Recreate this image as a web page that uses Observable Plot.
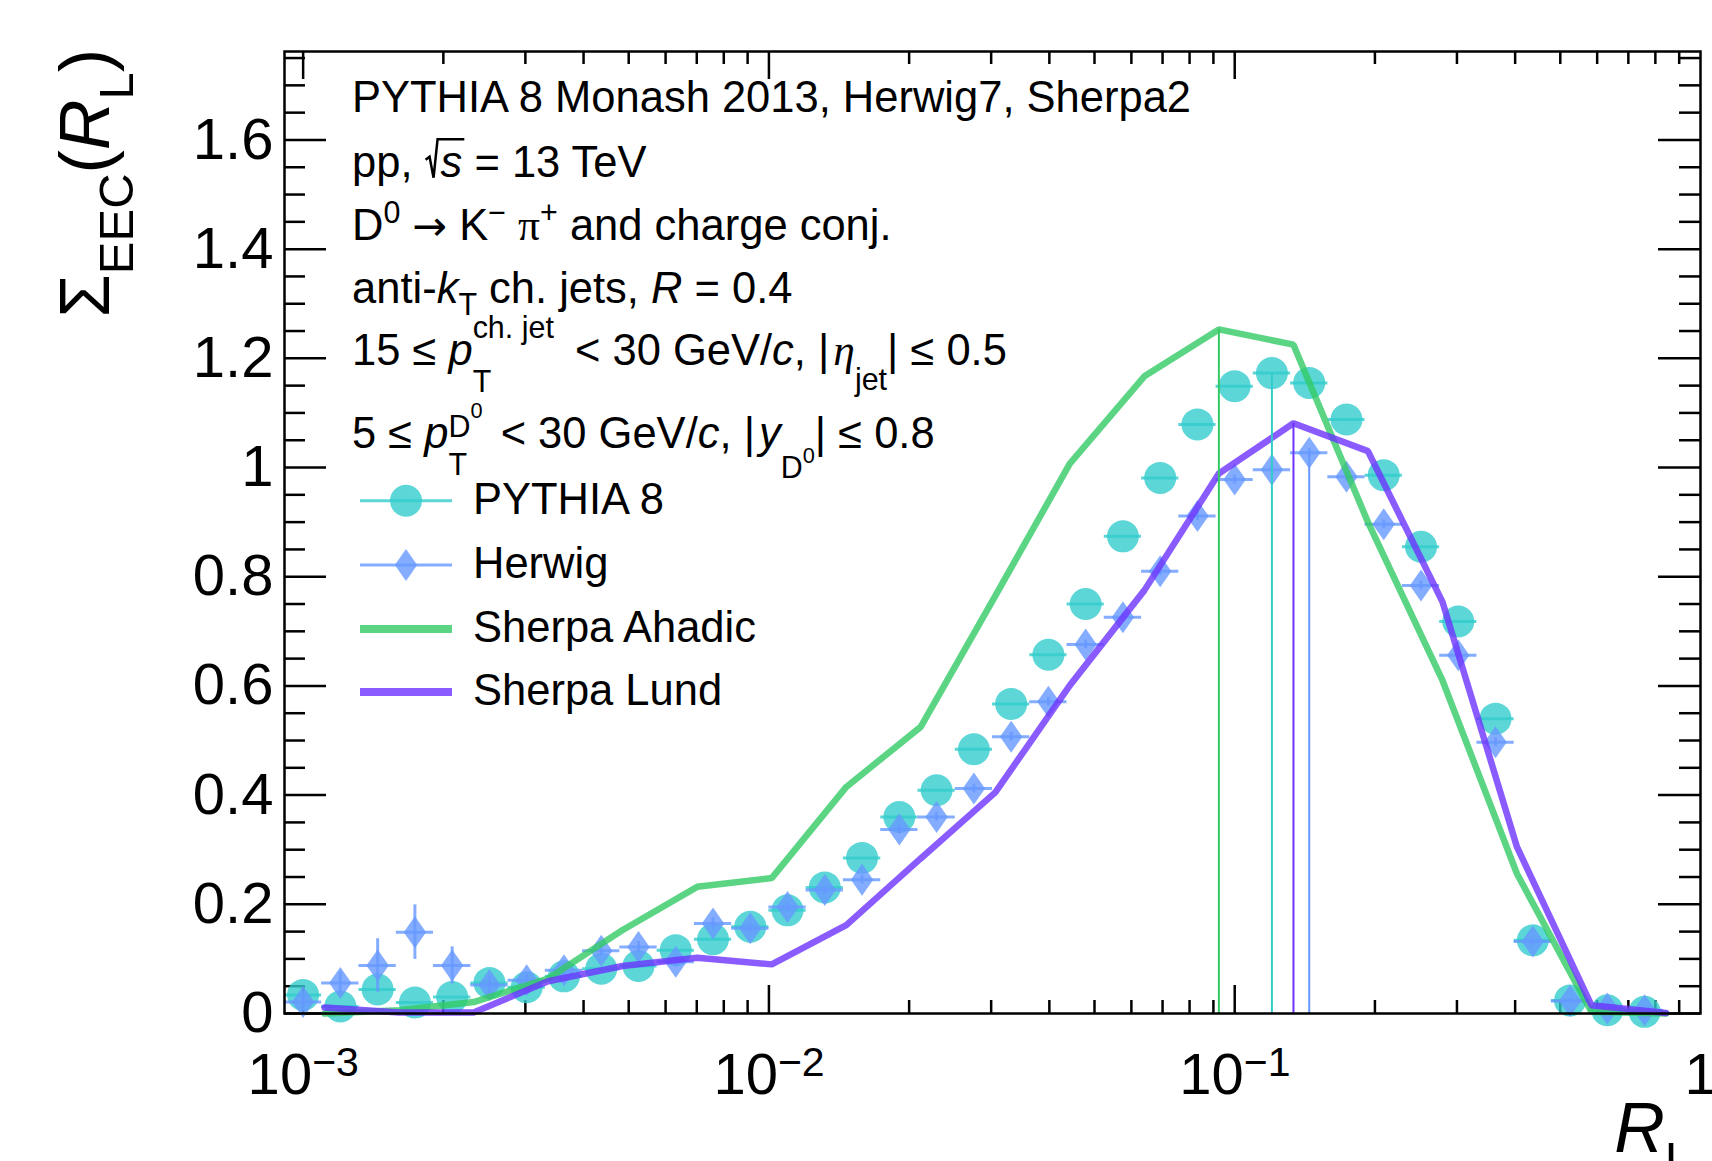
<!DOCTYPE html>
<html><head><meta charset="utf-8">
<script src="https://cdn.jsdelivr.net/npm/d3@7"></script>
<script src="https://cdn.jsdelivr.net/npm/@observablehq/plot@0.6"></script>
<style>
html,body{margin:0;padding:0;background:#fff;}
#chart svg{display:block;}
</style></head><body><div id="chart"></div>
<script>
// ---------------- data ----------------
// log-spaced bin edges of the PYTHIA / Herwig histograms (R_L)
const binEdges = [0.000912,0.001096,0.001318,0.001585,0.001905,0.002291,0.002754,0.003311,0.003981,0.004786,
  0.005754,0.006918,0.008318,0.01,0.01202,0.01445,0.01738,0.02089,0.02512,0.03020,0.03631,0.04365,0.05248,
  0.06310,0.07586,0.09120,0.1096,0.1318,0.1585,0.1905,0.2291,0.2754,0.3311,0.3981,0.4786,0.5754,0.6918,0.8318];
const pythia = [0.034,0.013,0.044,0.020,0.030,0.056,0.048,0.068,0.082,0.087,0.116,0.136,0.159,0.189,0.231,0.285,
  0.360,0.409,0.484,0.567,0.657,0.750,0.874,0.981,1.079,1.149,1.173,1.155,1.088,0.986,0.855,0.718,0.540,0.134,0.024,0.006,0.003];
const herwig = [0.021,0.056,0.088,0.149,0.088,0.052,0.061,0.079,0.115,0.122,0.095,0.165,0.156,0.195,0.226,0.245,
  0.337,0.360,0.412,0.507,0.571,0.676,0.726,0.810,0.911,0.978,0.996,1.027,0.983,0.896,0.784,0.656,0.497,0.132,0.023,0.009,0.006];
const herwigErr = [0.015,0.02,0.049,0.05,0.034,0.015,0.012,0.012,0.01,0.01,0.01,0.01,0.008,0.008,0.008,0.008,
  0.008,0.008,0.008,0.008,0.008,0.008,0.008,0.008,0.008,0.008,0.008,0.008,0.008,0.008,0.008,0.008,0.008,0.006,0.004,0.003,0.003];
const sherpaX = [0.001112,0.001607,0.002323,0.003357,0.004853,0.007015,0.01014,0.01466,0.02118,0.03062,
  0.04426,0.06397,0.09247,0.1337,0.1932,0.2793,0.4036,0.5834,0.8433];
const sherpaAhadic = [0.0,0.006,0.021,0.064,0.153,0.232,0.248,0.415,0.525,0.765,1.007,1.167,1.253,1.225,0.900,0.610,0.256,0.003,0.0];
const sherpaLund   = [0.011,0.002,0.002,0.059,0.087,0.102,0.090,0.162,0.284,0.405,0.601,0.775,0.989,1.081,1.030,0.754,0.305,0.015,0.001];

const yMajorTicks = [0,0.2,0.4,0.6,0.8,1,1.2,1.4,1.6];
const yTickLabels = ["0","0.2","0.4","0.6","0.8","1","1.2","1.4","1.6"];
const xMajorTicks = [0.001,0.01,0.1];
const xTickBase = ["10","10","10"];
const xTickExp = ["\u22123","\u22122","\u22121"];
const xEndTick = [1];
const xEndLabel = ["1"];
const seriesNames = ["PYTHIA 8","Herwig","Sherpa Ahadic","Sherpa Lund"];

// ---------------- style ----------------
const FONT = "'Liberation Sans', Arial, Helvetica, sans-serif";
const SERIF = "'Liberation Serif', 'DejaVu Serif', serif";
const C_PY = "#33cccc", C_HW = "#6699ff", C_AH = "#32ca64", C_LU = "#6d33ff";
const ALPHA = 0.8;

const W = 1712, H = 1161, ML = 284, MR = 12, MT = 51, MB = 148;
const FW = W - ML - MR, FH = H - MT - MB;

// derived tables
const binCenters = binEdges.slice(0, -1).map((lo, i) => Math.sqrt(lo * binEdges[i + 1]));
const pyData = pythia.map((y, i) => ({x: binCenters[i], lo: binEdges[i], hi: binEdges[i + 1], y}));
const hwData = herwig.map((y, i) => ({x: binCenters[i], lo: binEdges[i], hi: binEdges[i + 1], y, e: herwigErr[i]}));
const ahData = sherpaX.map((x, i) => ({x, y: sherpaAhadic[i]}));
const luData = sherpaX.map((x, i) => ({x, y: sherpaLund[i]}));
const peakOf = (d) => d[d3.maxIndex(d, p => p.y)];
const peaks = [
  {...peakOf(ahData), c: C_AH},
  {...peakOf(pyData), c: C_PY},
  {...peakOf(luData), c: C_LU},
  {...peakOf(hwData), c: C_HW}
];

// minor ticks
const xMinor = [];
for (const dec of [0.001, 0.01, 0.1]) for (let k = 2; k <= 9; k++) xMinor.push(+(k * dec).toPrecision(3));
const yMinor = [];
for (let k = 1; k <= 35; k++) if (k % 4 !== 0) yMinor.push(+(k * 0.05).toFixed(2));

const tallDiamond = {
  draw(context, size) {
    const r = Math.sqrt(size / Math.PI), w = r * 0.7;
    context.moveTo(0, -r); context.lineTo(w, 0); context.lineTo(0, r); context.lineTo(-w, 0); context.closePath();
  }
};
const DIA_R = 16;

const tickStyle = {stroke: "#000", strokeWidth: 2.5};
const plot = Plot.plot({
  width: W, height: H,
  marginLeft: ML, marginRight: MR, marginTop: MT, marginBottom: MB,
  style: {fontFamily: FONT, background: "#fff", color: "#000", overflow: "visible"},
  x: {type: "log", domain: [0.000912, 1], axis: null},
  y: {domain: [0, 1.762]},
  marks: [
    // axis ticks (inward, ROOT style) on all four sides
    Plot.tickY(yMajorTicks, {y: d => d, insetRight: FW - 42, ...tickStyle}),
    Plot.tickY(yMajorTicks, {y: d => d, insetLeft: FW - 42, ...tickStyle}),
    Plot.tickY(yMinor, {y: d => d, insetRight: FW - 21, ...tickStyle}),
    Plot.tickY(yMinor, {y: d => d, insetLeft: FW - 21, ...tickStyle}),
    Plot.tickX(xMajorTicks, {x: d => d, insetTop: FH - 28, ...tickStyle}),
    Plot.tickX(xMajorTicks, {x: d => d, insetBottom: FH - 28, ...tickStyle}),
    Plot.tickX(xMinor, {x: d => d, insetTop: FH - 13, ...tickStyle}),
    Plot.tickX(xMinor, {x: d => d, insetBottom: FH - 13, ...tickStyle}),
    Plot.axisY({ticks: yMajorTicks, tickSize: 0, tickPadding: 11, fontSize: 58, label: null,
      tickFormat: d => yTickLabels[yMajorTicks.indexOf(d)]}),
    // x tick labels 10^{n}
    Plot.text(xMajorTicks, {x: d => d, text: (d, i) => xTickBase[i], frameAnchor: "bottom", lineAnchor: "bottom",
      textAnchor: "end", dx: 9, dy: 80, fontSize: 58}),
    Plot.text(xMajorTicks, {x: d => d, text: (d, i) => xTickExp[i], frameAnchor: "bottom", lineAnchor: "bottom",
      textAnchor: "start", dx: 9, dy: 62, fontSize: 41}),
    Plot.text(xEndTick, {x: d => d, text: (d, i) => xEndLabel[i], frameAnchor: "bottom", lineAnchor: "bottom",
      textAnchor: "middle", dy: 80, fontSize: 58}),
    // PYTHIA 8
    Plot.ruleY(pyData, {y: "y", x1: "lo", x2: "hi", stroke: C_PY, strokeOpacity: ALPHA, strokeWidth: 3}),
    Plot.dot(pyData, {x: "x", y: "y", r: 16, fill: C_PY, fillOpacity: ALPHA, stroke: "none"}),
    // Herwig
    Plot.ruleX(hwData, {x: "x", y1: d => d.y - d.e, y2: d => d.y + d.e, stroke: C_HW, strokeOpacity: ALPHA, strokeWidth: 3}),
    Plot.ruleY(hwData, {y: "y", x1: "lo", x2: "hi", stroke: C_HW, strokeOpacity: ALPHA, strokeWidth: 3}),
    Plot.dot(hwData, {x: "x", y: "y", r: DIA_R, symbol: tallDiamond, fill: C_HW, fillOpacity: ALPHA, stroke: "none"}),
    // Sherpa
    Plot.line(ahData, {x: "x", y: "y", stroke: C_AH, strokeOpacity: ALPHA, strokeWidth: 6.5, strokeLinejoin: "miter"}),
    Plot.line(luData, {x: "x", y: "y", stroke: C_LU, strokeOpacity: ALPHA, strokeWidth: 6.5, strokeLinejoin: "miter"}),
    // peak markers
    Plot.ruleX(peaks, {x: "x", y1: 0, y2: "y", stroke: d => d.c, strokeWidth: 2}),
    Plot.frame({stroke: "#000", strokeWidth: 2.5})
  ]
});
document.getElementById("chart").appendChild(plot);

// ---------------- annotations ----------------
const svg = d3.select(plot);
const g = svg.append("g").attr("fill", "#000").attr("text-anchor", "start").style("font-family", FONT);

function rich(x, y, parts, base) {
  let cx = x, prevStart = x, prevW = 0;
  for (const p of parts) {
    if (p.gap) { cx += p.gap; continue; }
    const size = base * (p.s ?? 1);
    const startX = p.same ? prevStart : cx;
    const t = g.append("text").attr("x", startX).attr("y", y + (p.dy ?? 0))
      .attr("text-anchor", "start")
      .attr("font-size", size).style("font-family", p.f ?? FONT)
      .attr("font-style", p.i ? "italic" : "normal")
      .style("white-space", "pre").text(p.t);
    const w = t.node().getComputedTextLength();
    if (p.same) cx = startX + Math.max(prevW, w);
    else { prevStart = startX; prevW = w; cx = startX + w; }
  }
  return cx;
}

const B = 43.5, TX = 352;
const ARROWF = "'DejaVu Sans', sans-serif";
rich(TX, 111.7, [{t: "PYTHIA 8 Monash 2013, Herwig7, Sherpa2"}], B);
{
  const y = 176.7;
  const cx = rich(TX, y, [{t: "pp, "}], B);
  const sx = cx + 16;
  const se = rich(sx, y, [{t: "s", i: true}], B);
  g.append("path").attr("fill", "none").attr("stroke", "#000").attr("stroke-width", 2.5)
    .attr("d", `M${cx + 1},${y - 17} L${cx + 5},${y - 20} L${cx + 9},${y + 1} L${cx + 13},${y - 37.5} L${se + 2},${y - 37.5}`);
  rich(se, y, [{t: " = 13 TeV"}], B);
}
rich(TX, 240, [{t: "D"}, {t: "0", s: 0.7, dy: -17}, {t: " "}, {t: "\u2192", f: ARROWF, s: 0.95}, {t: " K"},
  {t: "\u2212", s: 0.7, dy: -17}, {t: " "}, {t: "\u03c0", f: SERIF}, {t: "+", s: 0.7, dy: -17},
  {t: " and charge conj."}], B);
rich(TX, 303.3, [{t: "anti-"}, {t: "k", i: true}, {t: "T", s: 0.7, dy: 12}, {t: " ch. jets, "},
  {t: "R", i: true}, {t: " = 0.4"}], B);
rich(TX, 365, [{t: "15 \u2264 "}, {t: "p", i: true}, {t: "T", s: 0.7, dy: 27}, {t: "ch. jet", s: 0.7, dy: -27, same: true},
  {gap: 9}, {t: " < 30 GeV/"}, {t: "c", i: true}, {t: ", |"}, {gap: 4}, {t: "\u03b7", i: true, f: SERIF},
  {t: "jet", s: 0.7, dy: 25}, {t: "| \u2264 0.5"}], B);
rich(TX, 448, [{t: "5 \u2264 "}, {t: "p", i: true}, {t: "T", s: 0.7, dy: 27}, {t: "D", s: 0.7, dy: -11, same: true},
  {t: "0", s: 0.5, dy: -30}, {gap: 6}, {t: " < 30 GeV/"}, {t: "c", i: true}, {t: ", |"}, {gap: 4}, {t: "y", i: true},
  {t: "D", s: 0.7, dy: 30}, {t: "0", s: 0.5, dy: 15}, {t: "| \u2264 0.8"}], B);

// legend
const LX0 = 360, LX1 = 452, LMX = 406, LTX = 473;
const rows = [500.7, 565, 629, 692];
g.append("line").attr("x1", LX0).attr("x2", LX1).attr("y1", rows[0]).attr("y2", rows[0])
  .attr("stroke", C_PY).attr("stroke-opacity", ALPHA).attr("stroke-width", 3);
g.append("circle").attr("cx", LMX).attr("cy", rows[0]).attr("r", 16).attr("fill", C_PY).attr("fill-opacity", ALPHA);
g.append("line").attr("x1", LX0).attr("x2", LX1).attr("y1", rows[1]).attr("y2", rows[1])
  .attr("stroke", C_HW).attr("stroke-opacity", ALPHA).attr("stroke-width", 3);
{
  const p = d3.path(); tallDiamond.draw(p, DIA_R * DIA_R * Math.PI);
  g.append("path").attr("d", p.toString()).attr("transform", `translate(${LMX},${rows[1]})`)
    .attr("fill", C_HW).attr("fill-opacity", ALPHA);
}
g.append("line").attr("x1", LX0).attr("x2", LX1).attr("y1", rows[2]).attr("y2", rows[2])
  .attr("stroke", C_AH).attr("stroke-opacity", ALPHA).attr("stroke-width", 8);
g.append("line").attr("x1", LX0).attr("x2", LX1).attr("y1", rows[3]).attr("y2", rows[3])
  .attr("stroke", C_LU).attr("stroke-opacity", ALPHA).attr("stroke-width", 8);
seriesNames.forEach((n, i) => rich(LTX, rows[i] + 13, [{t: n}], B));

// axis titles
{
  const yt = svg.append("text").attr("transform", "translate(109,49) rotate(-90)")
    .attr("text-anchor", "end").attr("font-size", 70).style("font-family", FONT).attr("fill", "#000");
  yt.append("tspan").text("\u03a3");
  yt.append("tspan").attr("font-size", 49).attr("dy", 24).text("EEC");
  yt.append("tspan").attr("dy", -24).text("(");
  yt.append("tspan").attr("font-style", "italic").text("R");
  yt.append("tspan").attr("font-size", 49).attr("dy", 24).text("L");
  yt.append("tspan").attr("dy", -24).text(")");
  const xt = svg.append("text").attr("x", 1692).attr("y", 1152)
    .attr("text-anchor", "end").attr("font-size", 70).style("font-family", FONT).attr("fill", "#000");
  xt.append("tspan").attr("font-style", "italic").text("R");
  xt.append("tspan").attr("font-size", 49).attr("dy", 24).text("L");
}
</script></body></html>
